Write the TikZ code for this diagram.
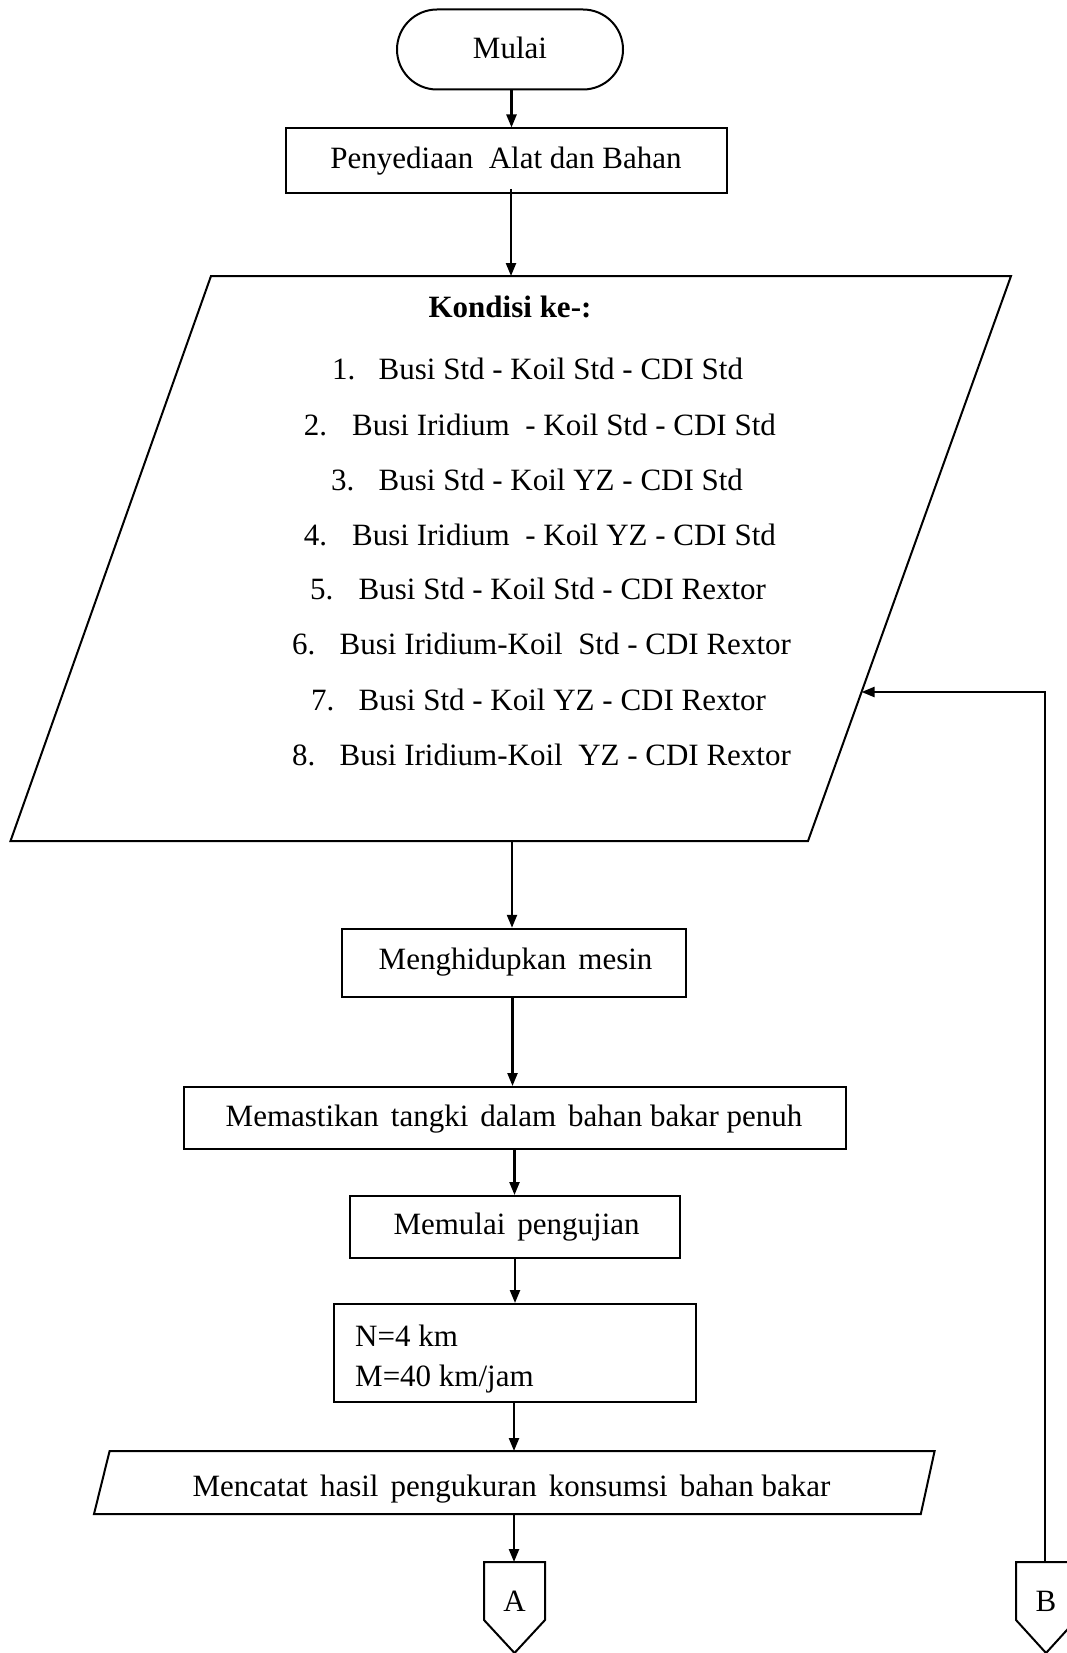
\documentclass[tikz,border=0pt]{standalone}
\usepackage{fontspec}
\setmainfont{Liberation Serif}
\usetikzlibrary{arrows.meta,calc}
\newcommand\flowfont{\fontsize{31}{40}\selectfont}
\newcommand\wgap{\hspace{12pt}}
\tikzset{
  outline/.style={draw, line width=2},
  stepbox/.style={outline, rectangle, inner sep=0, font=\flowfont},
  txt/.style={inner sep=0, font=\flowfont},
  kline/.style={txt, anchor=west, text height=21, text depth=7},
  arr/.style={line width=2.3, -{Triangle[length=13,width=10]}},
  link/.style={line width=2.3}
}
\begin{document}
\begin{tikzpicture}[x=1pt, y=-1pt]
\useasboundingbox (0,0) rectangle (1067,1653);
\clip (0,0) rectangle (1067,1653);

% start terminator
\node[stepbox, rounded corners=40, minimum width=226, minimum height=80] (mulai) at (510,49.5) {};
\node[txt] (mulai-t) at (510,47.5) {Mulai};

% preparation
\node[stepbox, minimum width=441, minimum height=65] (siap) at (506,161) {Penyediaan\ \ Alat dan Bahan};

% input parallelogram with the eight test conditions
\coordinate (kp-tl) at (211,276);
\coordinate (kp-tr) at (1011,276);
\coordinate (kp-br) at (808,841);
\coordinate (kp-bl) at (10.5,841);
\draw[outline] (kp-tl) -- (kp-tr) -- (kp-br) -- (kp-bl) -- cycle;
\coordinate (kp-top) at (511,276);
\coordinate (kp-bot) at (512,841);
\coordinate (kp-in) at ($(kp-tr)!0.7363!(kp-br)$);

\node[txt, font=\flowfont\bfseries] (kondisi) at (510,307) {Kondisi ke-:};

\node[kline] (n1) at (332,372)   {1.};
\node[kline] (t1) at (378.5,372) {Busi Std - Koil Std - CDI Std};
\node[kline] (n2) at (303.7,428) {2.};
\node[kline] (t2) at (352,428)   {Busi Iridium\ \ - Koil Std - CDI Std};
\node[kline] (n3) at (331,483)   {3.};
\node[kline] (t3) at (378.5,483) {Busi Std - Koil YZ - CDI Std};
\node[kline] (n4) at (303.7,538) {4.};
\node[kline] (t4) at (352,538)   {Busi Iridium\ \ - Koil YZ - CDI Std};
\node[kline] (n5) at (310,592)   {5.};
\node[kline] (t5) at (358.5,592) {Busi Std - Koil Std - CDI Rextor};
\node[kline] (n6) at (292,647)   {6.};
\node[kline] (t6) at (339.5,647) {Busi Iridium-Koil\ \ Std - CDI Rextor};
\node[kline] (n7) at (311,703)   {7.};
\node[kline] (t7) at (358.5,703) {Busi Std - Koil YZ - CDI Rextor};
\node[kline] (n8) at (292,758)   {8.};
\node[kline] (t8) at (339.5,758) {Busi Iridium-Koil\ \ YZ - CDI Rextor};

% process steps
\node[stepbox, minimum width=344, minimum height=68.5] (hidup) at (513.5,963) {};
\node[txt] (hidup-t) at (515.6,962.5) {Menghidupkan\wgap mesin};
\node[stepbox, minimum width=662, minimum height=62] (tangki) at (514.5,1118) {};
\node[txt] (tangki-t) at (514,1119.5) {Memastikan\wgap tangki\wgap dalam\wgap bahan bakar penuh};
\node[stepbox, minimum width=330, minimum height=62] (uji) at (515,1227) {};
\node[txt] (uji-t) at (516.6,1227) {Memulai\wgap pengujian};
\node[stepbox, minimum width=362, minimum height=98] (param) at (515,1353) {};
\node[txt, anchor=west, text height=21, text depth=7] (par-n) at (355,1339) {N=4 km};
\node[txt, anchor=west, text height=21, text depth=7] (par-m) at (355,1379) {M=40 km/jam};

% output parallelogram
\coordinate (mc-tl) at (109.6,1451);
\coordinate (mc-tr) at (934.6,1451);
\coordinate (mc-br) at (920.8,1514);
\coordinate (mc-bl) at (94,1514);
\draw[outline] (mc-tl) -- (mc-tr) -- (mc-br) -- (mc-bl) -- cycle;
\coordinate (mc-top) at (514,1451);
\coordinate (mc-bot) at (514,1514);
\node[txt] (catat) at (511.5,1489) {Mencatat\wgap hasil\wgap pengukuran\wgap konsumsi\wgap bahan bakar};

% off-page connectors
\draw[outline] (484,1562) -- (545,1562) -- (545,1620) -- (514.5,1653) -- (484,1620) -- cycle;
\coordinate (a-top) at (514,1562);
\node[txt] (conA) at (514.5,1601) {A};
\draw[outline] (1016,1562) -- (1076,1562) -- (1076,1620) -- (1046,1653) -- (1016,1620) -- cycle;
\coordinate (b-top) at (1044.7,1562);
\node[txt] (conB) at (1046,1601) {B};

% flow connectors
\draw[arr] (mulai.south -| 511.5,0) -- (siap.north -| 511.5,0);
\draw[arr] (511,189) -- (kp-top);
\draw[arr] (kp-bot) -- (hidup.north -| kp-bot);
\draw[arr] (hidup.south -| 512.5,0) -- (tangki.north -| 512.5,0);
\draw[arr] (tangki.south -| 514.5,0) -- (uji.north -| 514.5,0);
\draw[arr] (uji.south -| 515,0) -- (param.north -| 515,0);
\draw[arr] (param.south -| mc-top) -- (mc-top);
\draw[arr] (mc-bot) -- (a-top);

% loop back from connector B to the condition list
\draw[arr] (b-top) |- (kp-in);
\end{tikzpicture}
\end{document}
